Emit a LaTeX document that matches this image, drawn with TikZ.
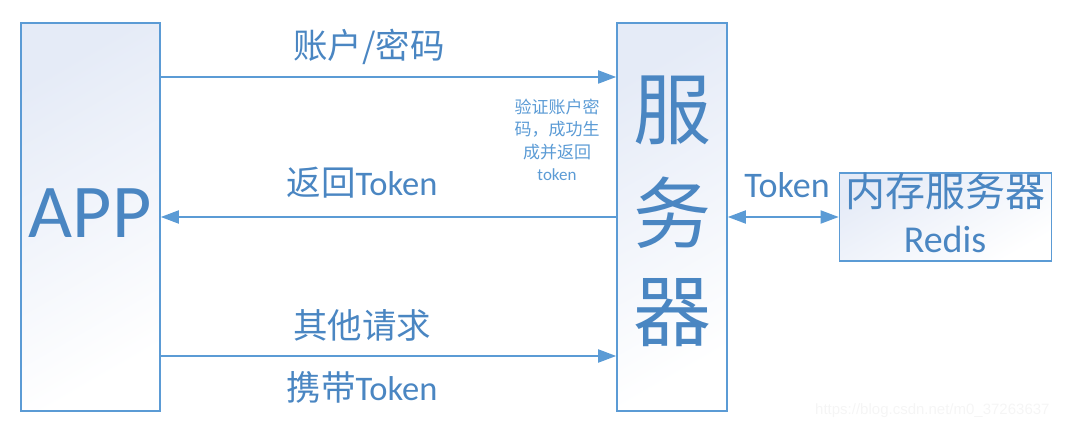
\documentclass[tikz,border=0pt]{standalone}
\usepackage{fontspec}
\setmainfont{Carlito}
\newfontfamily\cjk{Noto Sans CJK SC}
\newfontfamily\urlfont{Liberation Sans}
\usetikzlibrary{arrows.meta}
\definecolor{lineblue}{RGB}{91,155,213}
\definecolor{textblue}{RGB}{74,134,194}
\definecolor{boxtop}{RGB}{229,235,247}
\begin{document}
\begin{tikzpicture}[x=1pt,y=-1pt,
  >={Triangle[length=18pt,width=13pt]},
  box/.style={draw=lineblue, line width=1.6pt, top color=boxtop, bottom color=white, shading angle=30, inner sep=0pt},
  link/.style={lineblue, line width=1.8pt, ->},
  lbl/.style={text=textblue, inner sep=0pt, font=\fontsize{34.5}{36}\selectfont}]
\useasboundingbox (0,0) rectangle (1073,430);
% boxes
\node[box, minimum width=139pt, minimum height=388pt] (app) at (90.5,217) {};
\node[box, minimum width=110pt, minimum height=388pt] (server) at (672,217) {};
\node[box, minimum width=212pt, minimum height=88pt] (redis) at (945.5,217) {};
\node[lbl, font=\fontsize{76}{76}\selectfont] (apptext) at (90,213) {APP};
\node[lbl, font=\cjk\fontsize{78}{78}\selectfont] (fu) at (672,110) {服};
\node[lbl, font=\cjk\fontsize{78}{78}\selectfont] (wu) at (672,213) {务};
\node[lbl, font=\cjk\fontsize{78}{78}\selectfont] (qi) at (672,313) {器};
\node[lbl, font=\cjk\fontsize{40}{40}\selectfont] (nc) at (945,191) {内存服务器};
\node[lbl, font=\fontsize{38}{38}\selectfont] (rd) at (945,239) {Redis};
% arrows
\draw[link] (app.east |- 0,77) -- (server.west |- 0,77);
\draw[link] (server.west |- 0,217) -- (app.east |- 0,217);
\draw[link] (app.east |- 0,356) -- (server.west |- 0,356);
\draw[link, <->] (server.east) -- (redis.west);
% labels
\node[lbl] (login) at (369,47) {\cjk 账户/密码};
\node[lbl] (back) at (362,183) {{\cjk 返回}Token};
\node[lbl] (other) at (362,325) {\cjk 其他请求};
\node[lbl] (carry) at (362,387) {{\cjk 携带}Token};
\node[lbl, font=\fontsize{36}{36}\selectfont] (tk) at (787,185) {Token};
\node[lbl, text=lineblue, align=center, font=\cjk\fontsize{17}{22.5}\selectfont] (check) at (557,140)
  {验证账户密\\码，成功生\\成并返回\\{\rmfamily token}};
\node[text=black!4, inner sep=0pt, anchor=west, font=\urlfont\fontsize{15}{15}\selectfont] (mark) at (815,411) {https://blog.csdn.net/m0\_37263637};
\end{tikzpicture}
\end{document}
